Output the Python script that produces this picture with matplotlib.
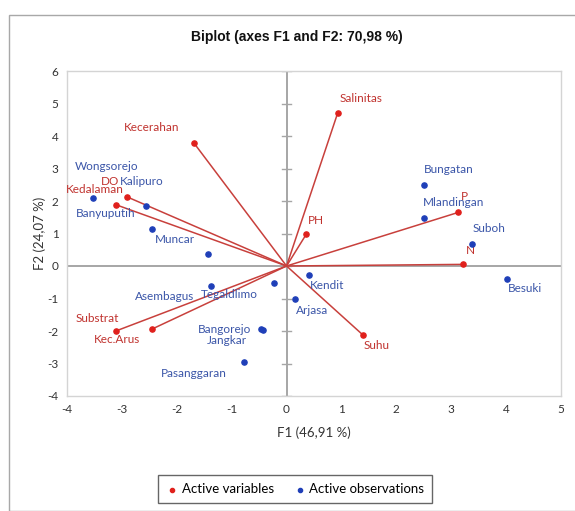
import matplotlib.pyplot as plt
from matplotlib.patches import Rectangle

# Active variables (loadings on F1 / F2)
var_names = ["Salinitas", "Kecerahan", "DO", "Kedalaman", "PH", "P", "N",
             "Suhu", "Substrat", "Kec.Arus"]
var_f1 = [0.93, -1.69, -2.91, -3.10, 0.36, 3.13, 3.22, 1.39, -3.11, -2.45]
var_f2 = [4.70, 3.79, 2.13, 1.88, 0.98, 1.65, 0.05, -2.12, -2.00, -1.94]

# Active observations (scores on F1 / F2)
obs_names = ["Wongsorejo", "Kalipuro", "Banyuputih", "Muncar", "Asembagus",
             "Tegaldlimo", "Bangorejo", "Jangkar", "Pasanggaran", "Kendit",
             "Arjasa", "Besuki", "Bungatan", "Mlandingan", "Suboh"]
obs_f1 = [-3.52, -2.56, -2.46, -1.44, -1.37, -0.22, -0.47, -0.43, -0.78,
          0.41, 0.15, 4.02, 2.50, 2.50, 3.38]
obs_f2 = [2.10, 1.85, 1.14, 0.38, -0.61, -0.53, -1.94, -1.97, -2.96,
          -0.28, -1.02, -0.40, 2.50, 1.48, 0.68]

x_ticks = list(range(-4, 6))
y_ticks = list(range(-4, 7))

# label offsets in pixels (dx, dy) relative to each point
var_offsets = [(23, 15), (-42, 15), (-17, 15), (-22, 15), (10, 14), (6, 16),
               (7, 14), (14, -11), (-19, 13), (-35, -10)]
obs_offsets = [(13, 31), (-4, 24), (-46, 15), (-33, 14), (-47, -11),
               (-45, -11), (-36, 0), (-36, -10), (-50, -11), (18, -10),
               (17, -11), (18, -10), (25, 15), (30, 15), (17, 15)]

red = "#E0201C"
red_line = "#C8403C"
red_text = "#C0322E"
blue = "#1F3FB8"
blue_text = "#3A55A8"

plt.rcParams["font.family"] = ["Lato", "DejaVu Sans"]
plt.rcParams["axes.unicode_minus"] = False

fig = plt.figure(figsize=(5.75, 5.11), dpi=100)
ax = fig.add_axes([67 / 575, 1 - 396 / 511, (561 - 67) / 575, (396 - 71) / 511])

# outer frame of the figure
fig.patches.append(Rectangle((9 / 575, 0), 1, 1 - 15 / 511, transform=fig.transFigure,
                             fill=False, edgecolor="#A8A8A8", linewidth=1.0))

ax.set_xlim(-4, 5)
ax.set_ylim(-4, 6)
ax.set_xticks(x_ticks)
ax.set_yticks(y_ticks)
ax.tick_params(length=0, labelsize=8.5, colors="#333333", pad=6)
for s in ax.spines.values():
    s.set_color("#D4D4D4")
    s.set_linewidth(1.0)

# zero lines with crossing ticks on the vertical one
ax.axhline(0, color="#A6A6A6", linewidth=1.4, zorder=1)
ax.axvline(0, color="#A6A6A6", linewidth=1.4, zorder=1)
for yt in y_ticks:
    ax.plot([-0.08, 0.08], [yt, yt], color="#A6A6A6", linewidth=1.0, zorder=1)

# variable vectors
for name, x, y, (dx, dy) in zip(var_names, var_f1, var_f2, var_offsets):
    ax.plot([0, x], [0, y], color=red_line, linewidth=1.1, zorder=2)
    ax.annotate(name, (x, y), xytext=(dx, dy), textcoords="offset pixels",
                ha="center", va="center", fontsize=8.5, color=red_text)
ax.scatter(var_f1, var_f2, s=14, color=red, zorder=3, label="Active variables")

# observations
ax.scatter(obs_f1, obs_f2, s=14, color=blue, zorder=3, label="Active observations")
for name, x, y, (dx, dy) in zip(obs_names, obs_f1, obs_f2, obs_offsets):
    ax.annotate(name, (x, y), xytext=(dx, dy), textcoords="offset pixels",
                ha="center", va="center", fontsize=8.5, color=blue_text)

ax.set_xlabel("F1 (46,91 %)", fontsize=9.5, color="#333333", labelpad=8)
ax.set_ylabel("F2 (24,07 %)", fontsize=9.5, color="#333333", labelpad=1)
fig.text(297 / 575, 1 - 37 / 511, "Biplot (axes F1 and F2: 70,98 %)",
         ha="center", va="center", fontsize=10, fontweight="bold",
         family="Liberation Sans", color="#111111")

leg = fig.legend(loc="center", bbox_to_anchor=(295 / 575, 1 - 489 / 511), ncol=2,
                 fontsize=9.5, frameon=True, fancybox=False, markerscale=0.8,
                 handletextpad=0.2, columnspacing=1.5, borderpad=0.6,
                 handlelength=1.0)
leg.get_frame().set_edgecolor("#404040")
leg.get_frame().set_linewidth(1.0)

fig.savefig("out.png", dpi=100)
